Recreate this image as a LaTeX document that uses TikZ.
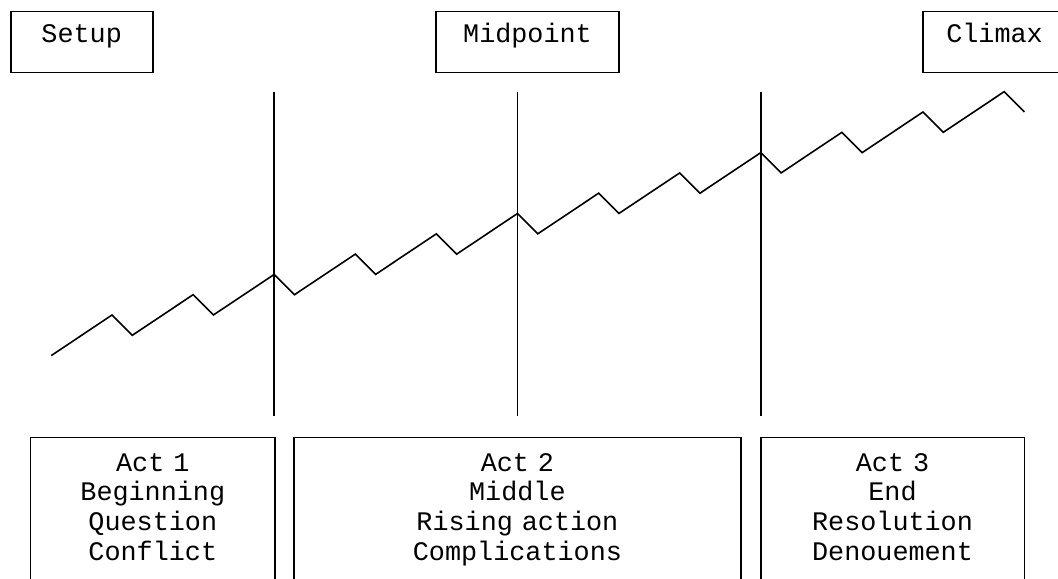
\documentclass[tikz,border=0pt]{standalone}
\usepackage{fontspec}
\setmonofont{Liberation Mono}[WordSpace={1,0,0}]
\tikzset{
    labelbox/.style={draw, line width=0.8pt, anchor=north, inner xsep=0pt, inner ysep=0pt,
        align=center, font=\ttfamily\fontsize{13.4}{14.8}\selectfont,
        text height=15.5pt, text depth=15pt},
    actbox/.style={labelbox, text height=16.9pt, text depth=54.75pt},
    arc/.style={line width=0.8pt, line join=miter},
}
\begin{document}
\begin{tikzpicture}[x=0.5pt, y=-0.5pt]
    \useasboundingbox (0, 0) rectangle (1058, 578);

    \node[labelbox, text width=71pt] (setup) at (81.7, 10.7) {Setup};
    \node[labelbox, text width=91.5pt] (midpoint) at (527.5, 10.7) {Midpoint};
    \node[labelbox, text width=71.8pt] (climax) at (994.5, 10.7) {Climax};

    \node[actbox, text width=122.2pt] (act1) at (152.8, 436.7) {Act 1\\Beginning\\Question\\Conflict};
    \node[actbox, text width=223.4pt] (act2) at (517.4, 436.7) {Act 2\\Middle\\Rising action\\Complications};
    \node[actbox, text width=131.8pt] (act3) at (892.5, 436.7) {Act 3\\End\\Resolution\\Denouement};

    \draw[arc] (274.2, 91.7) -- (274.2, 416);
    \draw[arc] (517.5, 91.7) -- (517.5, 416);
    \draw[arc] (760.8, 91.7) -- (760.8, 416);

    \draw[arc] (51.2, 355.6) -- (112, 315) -- (132.3, 335.3)
        -- (193.1, 294.7) -- (213.4, 315) -- (274.2, 274.4) -- (294.5, 294.7)
        -- (355.3, 254.1) -- (375.6, 274.4) -- (436.4, 233.8) -- (456.7, 254.1)
        -- (517.5, 213.5) -- (537.8, 233.8) -- (598.6, 193.2) -- (618.9, 213.5)
        -- (679.7, 172.9) -- (700, 193.2) -- (760.8, 152.6) -- (781.1, 172.9)
        -- (841.9, 132.3) -- (862.2, 152.6) -- (923, 112) -- (943.3, 132.3)
        -- (1004.1, 91.7) -- (1024.4, 112);
\end{tikzpicture}
\end{document}
